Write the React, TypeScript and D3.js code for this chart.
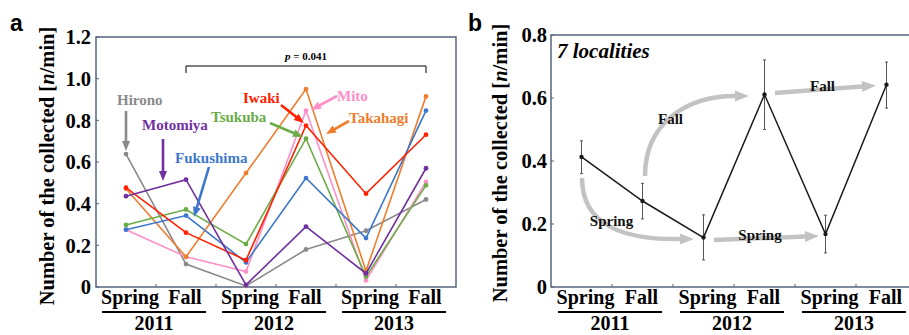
import React from "react";
import * as d3 from "d3";

const periods = ["Spring", "Fall", "Spring", "Fall", "Spring", "Fall"];
const years = ["2011", "2012", "2013"];
const yTicksA = [0, 0.2, 0.4, 0.6, 0.8, 1.0, 1.2];
const yTicksB = [0, 0.2, 0.4, 0.6, 0.8];

const localities = ["Hirono", "Mito", "Takahagi", "Tsukuba", "Fukushima", "Iwaki", "Motomiya"];
const localityColors = ["#8a8a8a", "#ff8fc8", "#ef7d2e", "#6aad46", "#3d78cc", "#ff2200", "#7030a0"];
const hirono = [0.638, 0.11, 0.005, 0.18, 0.27, 0.42];
const mito = [0.275, 0.145, 0.074, 0.847, 0.032, 0.504];
const takahagi = [0.472, 0.145, 0.547, 0.95, 0.077, 0.915];
const tsukuba = [0.298, 0.372, 0.206, 0.712, 0.05, 0.488];
const fukushima = [0.275, 0.343, 0.118, 0.523, 0.235, 0.847];
const iwaki = [0.477, 0.261, 0.129, 0.775, 0.448, 0.731];
const motomiya = [0.436, 0.515, 0.01, 0.29, 0.065, 0.57];
const seriesA = [hirono, mito, takahagi, tsukuba, fukushima, iwaki, motomiya];

const meanAll = [0.413, 0.273, 0.157, 0.611, 0.168, 0.642];
const errHigh = [0.464, 0.329, 0.229, 0.721, 0.228, 0.714];
const errLow = [0.36, 0.216, 0.086, 0.5, 0.108, 0.568];

const serif = "Liberation Serif";
const sans = "Liberation Sans";
const frameColor = "#56647e";

function Arrow({ x1, y1, x2, y2, color, width, head, headW }: any) {
  const ang = Math.atan2(y2 - y1, x2 - x1);
  const bx = x2 - head * Math.cos(ang);
  const by = y2 - head * Math.sin(ang);
  const px = -Math.sin(ang) * headW / 2;
  const py = Math.cos(ang) * headW / 2;
  return (
    <g>
      <line x1={x1} y1={y1} x2={bx + Math.cos(ang) * 1} y2={by + Math.sin(ang) * 1} stroke={color} strokeWidth={width} />
      <polygon points={`${x2},${y2} ${bx + px},${by + py} ${bx - px},${by - py}`} fill={color} />
    </g>
  );
}

function CurveArrow({ d, tip, from, color }: any) {
  const ang = Math.atan2(tip[1] - from[1], tip[0] - from[0]);
  const head = 14, headW = 11;
  const bx = tip[0] - head * Math.cos(ang);
  const by = tip[1] - head * Math.sin(ang);
  const px = -Math.sin(ang) * headW / 2;
  const py = Math.cos(ang) * headW / 2;
  return (
    <g>
      <path d={d} fill="none" stroke={color} strokeWidth={4.5} />
      <polygon points={`${tip[0]},${tip[1]} ${bx + px},${by + py} ${bx - px},${by - py}`} fill={color} />
    </g>
  );
}

function BottomAxis({ x, y0 }: any) {
  return (
    <g fontFamily={serif} fontWeight="bold" fontSize={20} fill="#000">
      {periods.map((p, i) => (
        <text key={i} x={x(i + 0.5) + (p === "Spring" ? 4 : -1)} y={y0 + 17} textAnchor="middle">{p}</text>
      ))}
      {years.map((yr, j) => {
        const c = (x(2 * j + 0.5) + x(2 * j + 1.5)) / 2 - 2;
        return (
          <g key={yr}>
            <line x1={c - 52} x2={c + 52} y1={y0 + 25} y2={y0 + 25} stroke="#000" strokeWidth={2.2} />
            <text x={c} y={y0 + 43} textAnchor="middle">{yr}</text>
          </g>
        );
      })}
    </g>
  );
}

export default function App() {
  // Panel a
  const ax = d3.scaleLinear().domain([0, 6]).range([96, 456]);
  const ay = d3.scaleLinear().domain([0, 1.2]).range([287, 37]);
  const lineA = d3.line<number>().x((_, i) => ax(i + 0.5)).y((v) => ay(v));

  // Panel b
  const bx = d3.scaleLinear().domain([0, 6]).range([551, 917]);
  const by = d3.scaleLinear().domain([0, 0.8]).range([287, 35]);
  const lineB = d3.line<number>().x((_, i) => bx(i + 0.5)).y((v) => by(v));

  const fmt = (v: number) => (v === 0 ? "0" : d3.format(".1f")(v));

  const labelsA = [
    { name: "Hirono", x: 117, y: 105, a: [126, 111, 126, 151] },
    { name: "Motomiya", x: 142, y: 130, a: [163, 139, 163, 181] },
    { name: "Fukushima", x: 175, y: 163, a: [209, 167, 194, 217] },
    { name: "Tsukuba", x: 211, y: 122, a: [270, 123, 303, 137] },
    { name: "Iwaki", x: 243, y: 103, a: [281, 105, 304, 123] },
    { name: "Mito", x: 337, y: 101, a: [337, 96, 311, 110] },
    { name: "Takahagi", x: 349, y: 123, a: [349, 121, 326, 134] },
  ];

  const arrowGray = "#c3c3c3";

  return (
    <svg width={909} height={335} style={{ position: "absolute", left: 0, top: 0 }}>
      <rect width={909} height={335} fill="#fff" />
      {/* ---------- Panel a ---------- */}
      <text x={10} y={31} fontFamily={sans} fontWeight="bold" fontSize={23}>a</text>
      <text transform={`translate(54,166) rotate(-90)`} textAnchor="middle" fontFamily={serif} fontWeight="bold" fontSize={20.5}>
        Number of the collected [<tspan fontStyle="italic">n</tspan>/min]
      </text>
      {yTicksA.map((t) => (
        <g key={t}>
          <text x={91} y={ay(t)} dy="0.36em" textAnchor="end" fontFamily={serif} fontWeight="bold" fontSize={20.5}>{fmt(t)}</text>
          <line x1={96} x2={99} y1={ay(t)} y2={ay(t)} stroke={frameColor} strokeWidth={1} />
        </g>
      ))}
      {[1, 2, 3, 4, 5].map((t) => (
        <line key={t} x1={ax(t)} x2={ax(t)} y1={287} y2={284} stroke={frameColor} strokeWidth={1} />
      ))}
      <rect x={96} y={37} width={360} height={250} fill="none" stroke={frameColor} strokeWidth={1.5} />
      {seriesA.map((s, k) => (
        <g key={localities[k]}>
          <path d={lineA(s) || ""} fill="none" stroke={localityColors[k]} strokeWidth={1.6} />
          {s.map((v, i) => (
            <circle key={i} cx={ax(i + 0.5)} cy={ay(v)} r={2.4} fill={localityColors[k]} />
          ))}
        </g>
      ))}
      {labelsA.map((l) => {
        const c = localityColors[localities.indexOf(l.name)];
        return (
          <g key={l.name}>
            <text x={l.x} y={l.y} fontFamily={serif} fontWeight="bold" fontSize={15} fill={c}>{l.name}</text>
            <Arrow x1={l.a[0]} y1={l.a[1]} x2={l.a[2]} y2={l.a[3]} color={c} width={2.6} head={10} headW={8} />
          </g>
        );
      })}
      {/* significance bracket */}
      <path d={`M${ax(1.5)},73 V66 H${ax(5.5)} V73`} fill="none" stroke="#000" strokeWidth={1} />
      <text x={(ax(1.5) + ax(5.5)) / 2} y={60} textAnchor="middle" fontFamily={serif} fontWeight="bold" fontSize={11}>
        <tspan fontStyle="italic">p</tspan> = 0.041
      </text>
      <BottomAxis x={ax} y0={287} />

      {/* ---------- Panel b ---------- */}
      <text x={468} y={31} fontFamily={sans} fontWeight="bold" fontSize={23}>b</text>
      <text transform={`translate(507,163) rotate(-90)`} textAnchor="middle" fontFamily={serif} fontWeight="bold" fontSize={20.5}>
        Number of the collected [<tspan fontStyle="italic">n</tspan>/min]
      </text>
      {yTicksB.map((t) => (
        <g key={t}>
          <text x={547} y={by(t)} dy="0.36em" textAnchor="end" fontFamily={serif} fontWeight="bold" fontSize={20.5}>{fmt(t)}</text>
          <line x1={551} x2={554} y1={by(t)} y2={by(t)} stroke={frameColor} strokeWidth={1} />
        </g>
      ))}
      {[1, 2, 3, 4, 5].map((t) => (
        <line key={t} x1={bx(t)} x2={bx(t)} y1={287} y2={284} stroke={frameColor} strokeWidth={1} />
      ))}
      <rect x={551} y={35} width={366} height={252} fill="none" stroke={frameColor} strokeWidth={1.5} />
      <text x={557} y={58} fontFamily={serif} fontWeight="bold" fontStyle="italic" fontSize={21}>7 localities</text>

      {/* trend arrows */}
      <CurveArrow d="M582,178 C582,226 625,240 680,239" tip={[694, 239]} from={[680, 239]} color={arrowGray} />
      <CurveArrow d="M645,176 C645,122 688,96 735,96" tip={[749, 96]} from={[735, 96]} color={arrowGray} />
      <CurveArrow d="M714,240 L805,236.5" tip={[819, 236]} from={[805, 236.5]} color={arrowGray} />
      <CurveArrow d="M775,93 L862,86.5" tip={[876, 85.5]} from={[862, 86.5]} color={arrowGray} />
      <g fontFamily={serif} fontWeight="bold" fontSize={15} fill="#111">
        <text x={670.5} y={124} textAnchor="middle">Fall</text>
        <text x={611.5} y={226} textAnchor="middle">Spring</text>
        <text x={760} y={240} textAnchor="middle">Spring</text>
        <text x={822.5} y={91} textAnchor="middle">Fall</text>
      </g>

      {meanAll.map((m, i) => (
        <g key={i}>
          <line x1={bx(i + 0.5)} x2={bx(i + 0.5)} y1={by(errLow[i])} y2={by(errHigh[i])} stroke="#555" strokeWidth={1} />
          <line x1={bx(i + 0.5) - 1.5} x2={bx(i + 0.5) + 1.5} y1={by(errLow[i])} y2={by(errLow[i])} stroke="#555" strokeWidth={1} />
          <line x1={bx(i + 0.5) - 1.5} x2={bx(i + 0.5) + 1.5} y1={by(errHigh[i])} y2={by(errHigh[i])} stroke="#555" strokeWidth={1} />
        </g>
      ))}
      <path d={lineB(meanAll) || ""} fill="none" stroke="#1a1a1a" strokeWidth={1.5} />
      {meanAll.map((m, i) => (
        <circle key={i} cx={bx(i + 0.5)} cy={by(m)} r={2.2} fill="#1a1a1a" />
      ))}
      <BottomAxis x={bx} y0={287} />
    </svg>
  );
}
